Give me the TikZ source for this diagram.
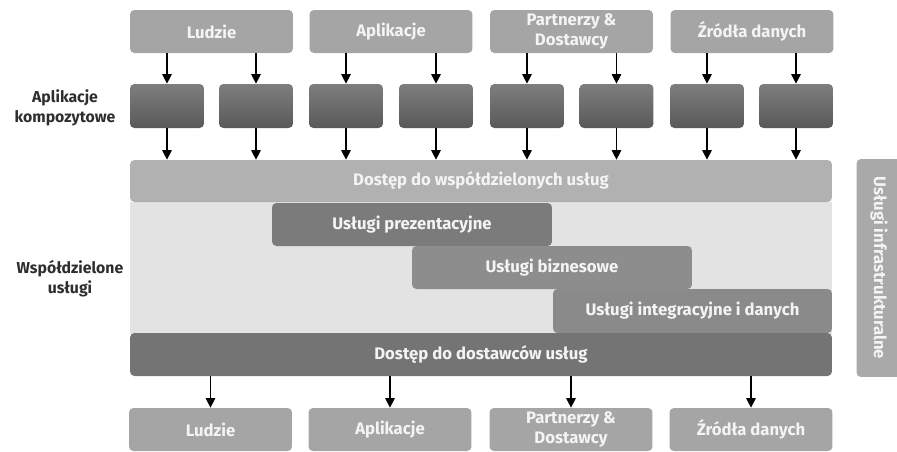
\documentclass[tikz,border=0pt]{standalone}
\usepackage{fontspec}
\setmainfont{Fira Sans}
\usetikzlibrary{arrows.meta}

\definecolor{topgray}{HTML}{A5A5A5}
\definecolor{darktop}{HTML}{7E7E7E}
\definecolor{darkbot}{HTML}{595959}
\definecolor{sharedgray}{HTML}{B1B1B1}
\definecolor{bggray}{HTML}{E3E3E3}
\definecolor{presgray}{HTML}{7B7B7B}
\definecolor{bizgray}{HTML}{8D8D8D}
\definecolor{integgray}{HTML}{8A8A8A}
\definecolor{provgray}{HTML}{747474}
\definecolor{infragray}{HTML}{A9A9A9}
\definecolor{boxtext}{HTML}{F4F4F4}
\definecolor{labeltext}{HTML}{2E2E2E}

\tikzset{
  box/.style={rounded corners=2.5pt, text=boxtext, inner sep=0pt, align=center,
    font=\bfseries\fontsize{9.5}{11}\selectfont},
  endbox/.style={box, fill=topgray, minimum width=3.26cm, minimum height=0.86cm},
  appbox/.style={rounded corners=2.5pt, top color=darktop, bottom color=darkbot,
    minimum width=1.48cm, minimum height=0.88cm, inner sep=0pt},
  layerbox/.style={box, minimum height=0.86cm},
  sidelabel/.style={text=labeltext, align=center, font=\bfseries\fontsize{9}{11.5}\selectfont},
  arr/.style={line width=0.6pt, -{Triangle[length=1.9mm,width=1.9mm]}}
}

\begin{document}
\begin{tikzpicture}[x=0.02cm,y=-0.02cm]
		\useasboundingbox (0,0) rectangle (897,451);

		% sources
		\node [endbox] (top1) at (211.5,31.5) {Ludzie};
		\node [endbox] (top2) at (391,31.5) {Aplikacje};
		\node [endbox] (top3) at (571.5,31.5) {Partnerzy \&\\Dostawcy};
		\node [endbox] (top4) at (752,31.5) {Źródła danych};

		% composite applications
		\node [sidelabel] (complab) at (65,108) {Aplikacje\\kompozytowe};
		\node [appbox] (app1) at (167,106) {};
		\node [appbox] (app2) at (256,106) {};
		\node [appbox] (app3) at (346,106) {};
		\node [appbox] (app4) at (436,106) {};
		\node [appbox] (app5) at (527,106) {};
		\node [appbox] (app6) at (616.5,106) {};
		\node [appbox] (app7) at (707,106) {};
		\node [appbox] (app8) at (796,106) {};

		% shared services
		\fill [bggray] (130,202) rectangle (832,334);
		\node [layerbox, fill=sharedgray, minimum width=14.04cm, minimum height=0.84cm] (shared) at (481,181) {Dostęp do współdzielonych usług};
		\node [layerbox, fill=presgray, minimum width=5.6cm] (pres) at (412,224.5) {Usługi prezentacyjne};
		\node [layerbox, fill=bizgray, minimum width=5.6cm] (biz) at (552,267.5) {Usługi biznesowe};
		\node [layerbox, fill=integgray, minimum width=5.58cm, minimum height=0.88cm] (integ) at (692.5,311) {Usługi integracyjne i danych};
		\node [layerbox, fill=provgray, minimum width=14.04cm] (prov) at (481,354.5) {Dostęp do dostawców usług};
		\node [sidelabel] (sharedlab) at (70,279) {Współdzielone\\usługi};

		% infrastructure
		\node [box, fill=infragray, rotate=-90, minimum width=4.36cm, minimum height=0.9cm] (infra) at (879,268) {Usługi infrastrukturalne};

		% targets
		\node [endbox] (bot1) at (210.5,429.5) {Ludzie};
		\node [endbox] (bot2) at (390,429.5) {Aplikacje};
		\node [endbox] (bot3) at (571,429.5) {Partnerzy \&\\Dostawcy};
		\node [endbox] (bot4) at (751,429.5) {Źródła danych};

		% arrows into the applications
		\draw [arr] (app1.north |- top1.south) -- (app1.north);
		\draw [arr] (app2.north |- top1.south) -- (app2.north);
		\draw [arr] (app3.north |- top2.south) -- (app3.north);
		\draw [arr] (app4.north |- top2.south) -- (app4.north);
		\draw [arr] (app5.north |- top3.south) -- (app5.north);
		\draw [arr] (app6.north |- top3.south) -- (app6.north);
		\draw [arr] (app7.north |- top4.south) -- (app7.north);
		\draw [arr] (app8.north |- top4.south) -- (app8.north);

		% arrows into the shared access
		\draw [arr] (app1.south) -- (app1.south |- shared.north);
		\draw [arr] (app2.south) -- (app2.south |- shared.north);
		\draw [arr] (app3.south) -- (app3.south |- shared.north);
		\draw [arr] (app4.south) -- (app4.south |- shared.north);
		\draw [arr] (app5.south) -- (app5.south |- shared.north);
		\draw [arr] (app6.south) -- (app6.south |- shared.north);
		\draw [arr] (app7.south) -- (app7.south |- shared.north);
		\draw [arr] (app8.south) -- (app8.south |- shared.north);

		% arrows out of the providers
		\draw [arr] (bot1.north |- prov.south) -- (bot1.north);
		\draw [arr] (bot2.north |- prov.south) -- (bot2.north);
		\draw [arr] (bot3.north |- prov.south) -- (bot3.north);
		\draw [arr] (bot4.north |- prov.south) -- (bot4.north);

  \end{tikzpicture}
\end{document}
